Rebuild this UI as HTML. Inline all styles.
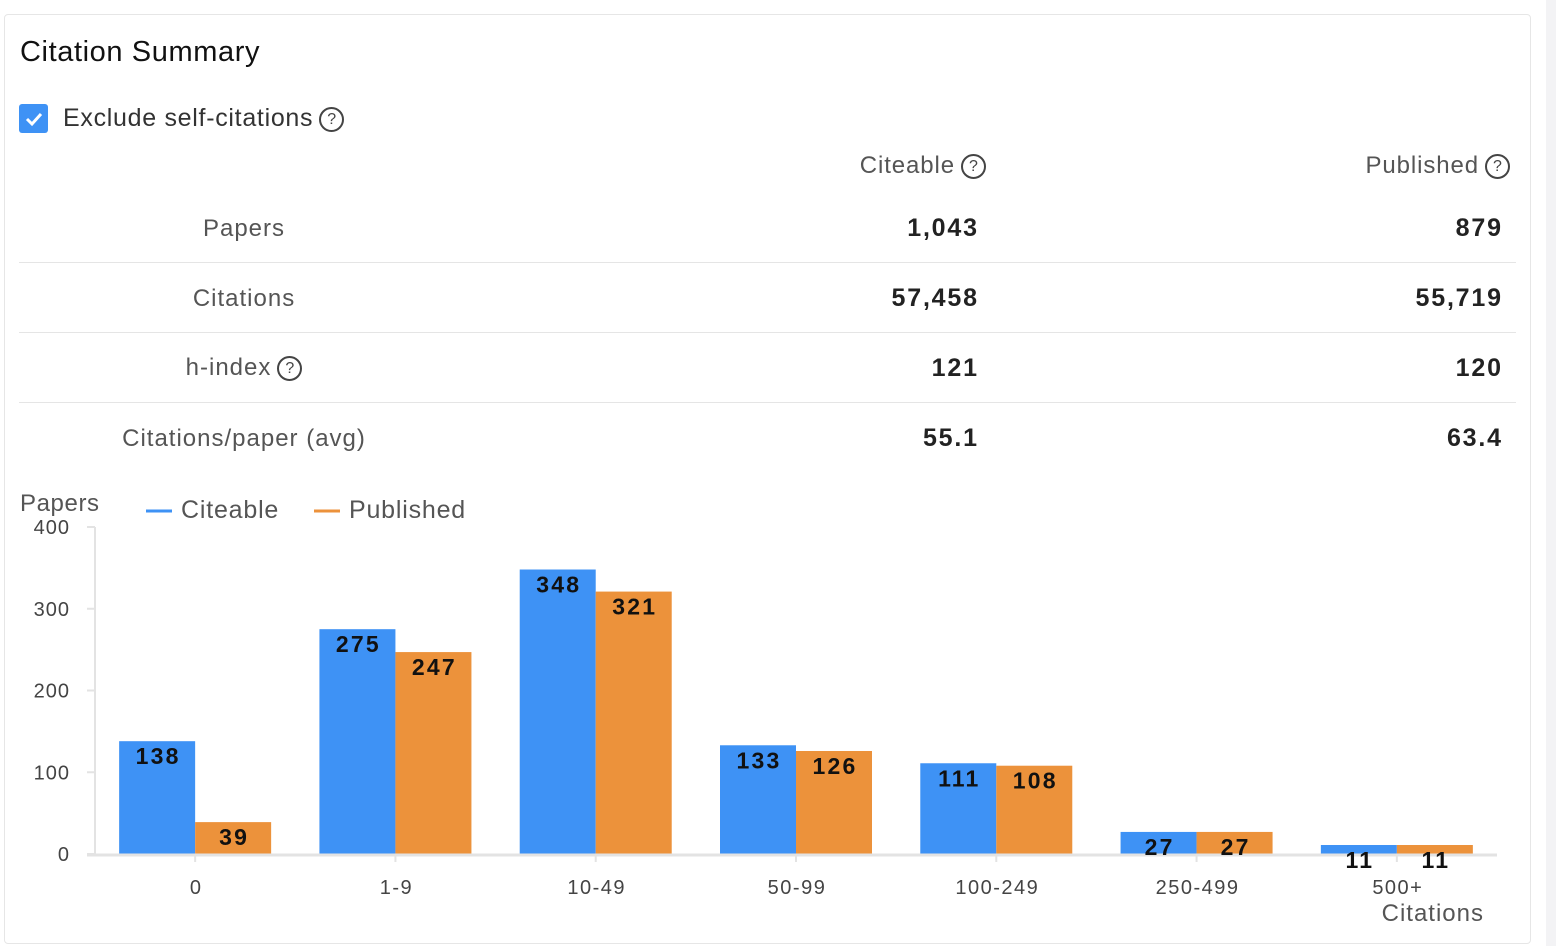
<!DOCTYPE html>
<html><head><meta charset="utf-8"><style>
body{margin:0;width:1556px;height:946px;background:#fff;font-family:"Liberation Sans",sans-serif;position:relative;overflow:hidden;color:#333}
.card{position:absolute;left:4px;top:14px;width:1525px;height:928px;border:1px solid #e6e6e6;border-radius:4px}
.sb{position:absolute;left:1546px;top:0;width:10px;height:946px;background:#f3f3f5}
.t{position:absolute;white-space:nowrap}
.q{display:inline-block;width:21px;height:21px;border:2px solid #444;border-radius:50%;font-size:16px;line-height:21px;text-align:center;vertical-align:2px;box-sizing:content-box;margin-left:6px;color:#444;letter-spacing:0}
.sep{position:absolute;left:19px;width:1497px;height:1px;background:#e5e5e5}
.lab{position:absolute;width:450px;left:19px;text-align:center;font-size:24px;color:#555;letter-spacing:1px}
.v{position:absolute;font-size:25px;font-weight:bold;color:#222;text-align:right;letter-spacing:1.8px;margin-right:-1.8px}
</style></head><body>
<div class="card"></div>
<div class="sb"></div>
<div class="t" style="left:20px;top:36px;font-size:29px;color:#111;letter-spacing:0.6px">Citation Summary</div>
<div style="position:absolute;left:19px;top:104px;width:29px;height:29px;background:#3e92f5;border-radius:3px"><svg width="29" height="29"><path d="M8 15l5 5 9-10" stroke="#fff" stroke-width="3" fill="none"/></svg></div>
<div class="t" style="left:63px;top:104px;font-size:25px;color:#333;letter-spacing:0.7px">Exclude self-citations<span class="q">?</span></div>
<div class="t" style="right:570px;top:152px;font-size:24px;color:#555;letter-spacing:0.9px">Citeable<span class="q">?</span></div>
<div class="t" style="right:46px;top:152px;font-size:24px;color:#555;letter-spacing:0.9px">Published<span class="q">?</span></div>
<div class="lab" style="top:215px">Papers</div>
<div class="v" style="right:579px;top:214px">1,043</div>
<div class="v" style="right:55px;top:214px">879</div>
<div class="sep" style="top:262px"></div>
<div class="lab" style="top:285px">Citations</div>
<div class="v" style="right:579px;top:284px">57,458</div>
<div class="v" style="right:55px;top:284px">55,719</div>
<div class="sep" style="top:332px"></div>
<div class="lab" style="top:354px">h-index<span class="q">?</span></div>
<div class="v" style="right:579px;top:354px">121</div>
<div class="v" style="right:55px;top:354px">120</div>
<div class="sep" style="top:402px"></div>
<div class="lab" style="top:425px">Citations/paper (avg)</div>
<div class="v" style="right:579px;top:424px">55.1</div>
<div class="v" style="right:55px;top:424px">63.4</div>
<svg id="chart" width="1556" height="946" style="position:absolute;left:0;top:0" font-family="Liberation Sans, sans-serif">
<text x="20" y="511" font-size="24" fill="#555" letter-spacing="0.6">Papers</text>
<line x1="146" y1="511" x2="172" y2="511" stroke="#3e92f5" stroke-width="3"/>
<text x="181" y="518" font-size="25" fill="#555" letter-spacing="0.8">Citeable</text>
<line x1="314" y1="511" x2="340" y2="511" stroke="#ec923b" stroke-width="3"/>
<text x="349" y="518" font-size="25" fill="#555" letter-spacing="0.8">Published</text>
<text x="1484" y="921" font-size="24" fill="#555" text-anchor="end" letter-spacing="1">Citations</text>
<g id="g"></g>
</svg>
<script>
const categories=["0","1-9","10-49","50-99","100-249","250-499","500+"];
const citeable=[138,275,348,133,111,27,11];
const published=[39,247,321,126,108,27,11];
const yTicks=[0,100,200,300,400];
const ns="http://www.w3.org/2000/svg",g=document.getElementById('g');
const y0=854,yTop=527,yMax=400,x0=95,x1=1497;
const y=v=>y0-(v/yMax)*(y0-yTop);
const step=(x1-x0)/categories.length;
const cx=i=>x0+step*(i+0.5);
function mk(t,a){const e=document.createElementNS(ns,t);for(const k in a)e.setAttribute(k,a[k]);g.appendChild(e);return e;}
let ax=mk('line',{x1:x0,y1:yTop,x2:x0,y2:y0,stroke:'#e3e3e3','stroke-width':2});


yTicks.forEach(t=>{
 let l=mk('line',{x1:x0-8,y1:y(t),x2:x0,y2:y(t),stroke:'#e3e3e3','stroke-width':2});
 
 
 let tx=mk('text',{x:70,y:y(t)+7,'font-size':20,fill:'#444','text-anchor':'end','letter-spacing':1});tx.textContent=t;
 
 
});
const bw=76;
categories.forEach((c,i)=>{
 [[citeable,'#3e92f5',-bw,'citeable'],[published,'#ec923b',0,'published']].forEach(([arr,col,off,nm])=>{
  const v=arr[i];
  let r=mk('rect',{x:cx(i)+off,y:y(v),width:bw,height:y0-y(v),fill:col});
  
  
 });
});
let xa=mk('line',{x1:x0-8,y1:y0+1,x2:x1,y2:y0+1,stroke:'#e3e3e3','stroke-width':3});


categories.forEach((c,i)=>{
 let l=mk('line',{x1:cx(i),y1:y0,x2:cx(i),y2:y0+8,stroke:'#e3e3e3','stroke-width':2});
 
 
 let tx=mk('text',{x:cx(i)+1,y:894,'font-size':20,fill:'#444','text-anchor':'middle','letter-spacing':1.5});tx.textContent=c;
 
 
 [[citeable,-bw/2],[published,bw/2]].forEach(([arr,off])=>{
  let t=mk('text',{x:cx(i)+off+1,y:y(arr[i])+23,'font-size':23,'font-weight':'bold',fill:'#111','text-anchor':'middle','letter-spacing':2.2});t.textContent=arr[i];
  
  
 });
});
</script>
</body></html>
